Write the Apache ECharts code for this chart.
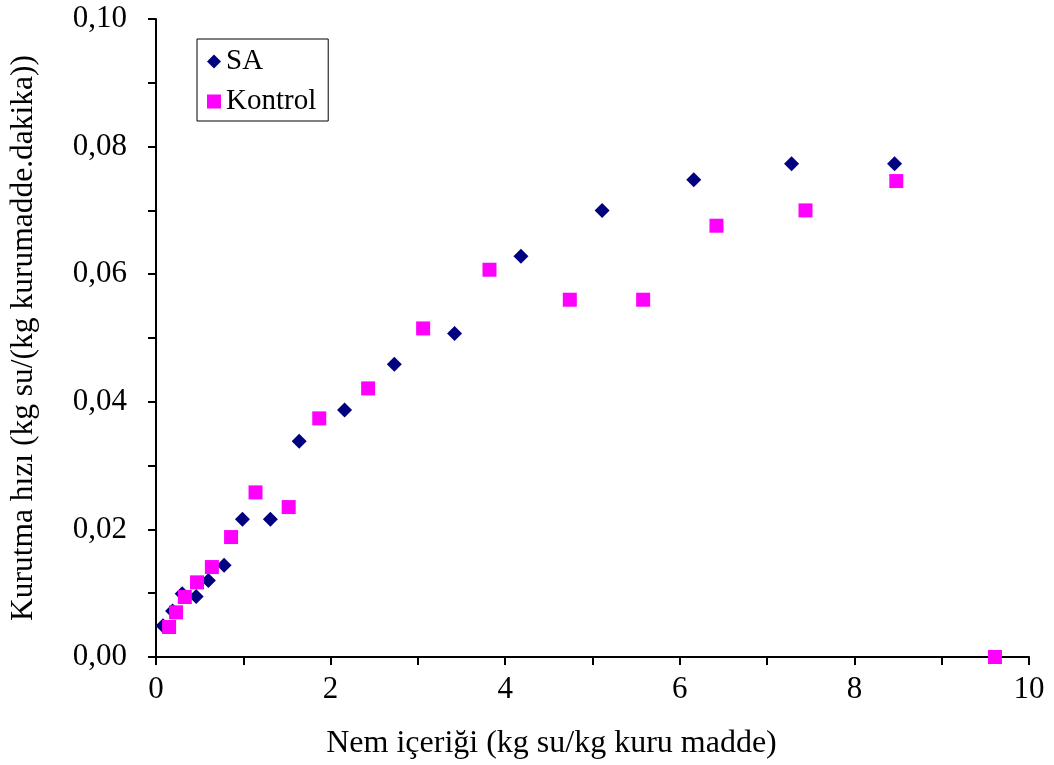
<!DOCTYPE html>
<html>
<head>
<meta charset="utf-8">
<script src="https://cdn.jsdelivr.net/npm/echarts@6/dist/echarts.min.js"></script>
<style>html,body{margin:0;padding:0;background:#fff;}#c{width:1054px;height:765px;}</style>
</head>
<body>
<div id="c"></div>
<script>
var saX = [0.08, 0.19, 0.30, 0.46, 0.60, 0.78, 0.99, 1.31, 1.64, 2.16, 2.73, 3.42, 4.18, 5.11, 6.16, 7.28, 8.46];
var saY = [0.0049, 0.0072, 0.0099, 0.0095, 0.0120, 0.0144, 0.0216, 0.0216, 0.0338, 0.0387, 0.0459, 0.0507, 0.0628, 0.0700, 0.0748, 0.0773, 0.0773];
var kontrolX = [0.15, 0.23, 0.33, 0.47, 0.64, 0.86, 1.14, 1.52, 1.87, 2.43, 3.06, 3.82, 4.74, 5.58, 6.42, 7.44, 8.48, 9.61];
var kontrolY = [0.0047, 0.0070, 0.0094, 0.0117, 0.0141, 0.0188, 0.0258, 0.0235, 0.0374, 0.0421, 0.0515, 0.0607, 0.0560, 0.0560, 0.0676, 0.0700, 0.0746, 0.0];
var seriesNames = ['SA', 'Kontrol'];
var xTitle = 'Nem içeriği (kg su/kg kuru madde)';
var yTitle = 'Kurutma hızı (kg su/(kg kurumadde.dakika))';

function zip(a, b) { return a.map(function (v, i) { return [v, b[i]]; }); }
var font = 'Liberation Serif, Times New Roman, serif';
var chart = echarts.init(document.getElementById('c'));
chart.setOption({
  animation: false,
  backgroundColor: '#fff',
  textStyle: { fontFamily: font },
  grid: { left: 153, right: 25, top: 19, bottom: 107, containLabel: false },
  legend: {
    left: 197, top: 39, orient: 'vertical',
    padding: [8, 12, 5, 10],
    itemGap: 11,
    borderColor: '#000', borderWidth: 1,
    itemWidth: 14, itemHeight: 14,
    textStyle: { fontFamily: font, fontSize: 29, color: '#000', lineHeight: 29 },
    data: [{ name: seriesNames[0], icon: 'diamond' }, { name: seriesNames[1], icon: 'rect' }]
  },
  xAxis: {
    type: 'value', min: 0, max: 10, interval: 1,
    name: xTitle, nameLocation: 'middle', nameGap: 71,
    nameTextStyle: { fontFamily: font, fontSize: 32, color: '#000', padding: [0, 82, 0, 0] },
    axisLine: { show: true, onZero: false, lineStyle: { color: '#000', width: 2 } },
    axisTick: { show: true, length: 8, lineStyle: { color: '#000', width: 2 } },
    splitLine: { show: false },
    axisLabel: {
      fontFamily: font, fontSize: 31, color: '#000', margin: 17,
      formatter: function (v) { var r = Math.round(v); return r % 2 === 0 ? String(r) : ''; }
    }
  },
  yAxis: {
    type: 'value', min: 0, max: 0.10, interval: 0.01,
    name: yTitle, nameLocation: 'middle', nameGap: 116,
    nameTextStyle: { fontFamily: font, fontSize: 31.5, color: '#000' },
    axisLine: { show: true, onZero: false, lineStyle: { color: '#000', width: 2 } },
    axisTick: { show: true, length: 8, lineStyle: { color: '#000', width: 2 } },
    splitLine: { show: false },
    axisLabel: {
      fontFamily: font, fontSize: 31, color: '#000', margin: 29,
      formatter: function (v) { var r = Math.round(v * 100); return r % 2 === 0 ? (r / 100).toFixed(2).replace('.', ',') : ''; }
    }
  },
  series: [
    {
      name: seriesNames[0], type: 'scatter', symbol: 'diamond', symbolSize: 15,
      itemStyle: { color: '#000080', opacity: 1 }, z: 3,
      data: zip(saX, saY)
    },
    {
      name: seriesNames[1], type: 'scatter', symbol: 'rect', symbolSize: 14,
      itemStyle: { color: '#FF00FF', opacity: 1 }, z: 4,
      data: zip(kontrolX, kontrolY)
    }
  ]
});
</script>
</body>
</html>
